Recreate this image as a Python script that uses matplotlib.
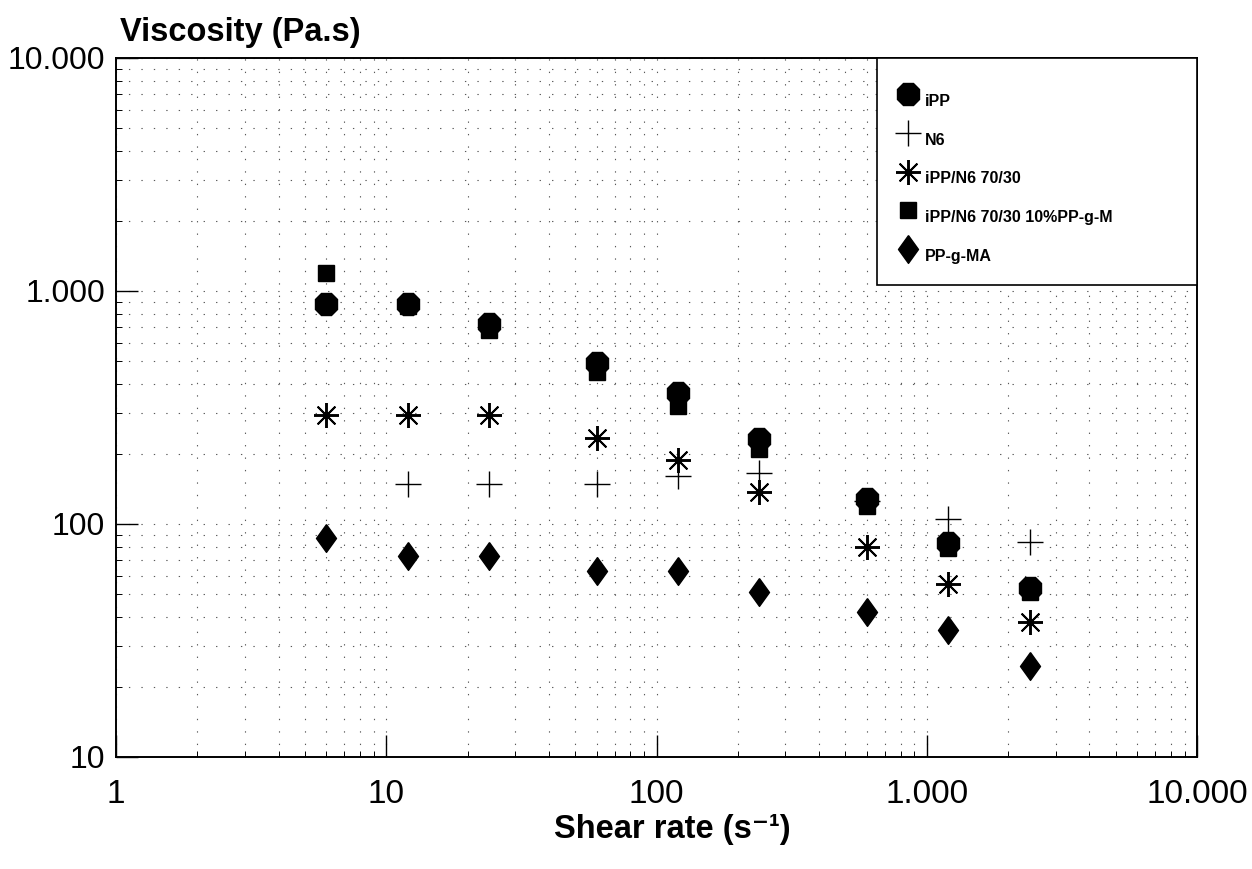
import numpy as np
import matplotlib
matplotlib.use("Agg")
import matplotlib.pyplot as plt
from matplotlib.ticker import FixedLocator, FuncFormatter, NullFormatter, LogLocator

plt.rcParams['font.family'] = ['Liberation Sans', 'DejaVu Sans']

# shear rate (1/s)
shear = [6, 12, 24, 60, 120, 240, 600, 1200, 2400]

# viscosity (Pa.s)
ipp = [880, 880, 720, 490, 365, 232, 128, 83, 53]
n6_shear = [12, 24, 60, 120, 240, 600, 1200, 2400]
n6 = [148, 148, 148, 160, 165, 125, 105, 84]
blend = [295, 295, 295, 234, 188, 137, 80, 55, 38]
blend_comp = [1200, 860, 680, 450, 320, 210, 119, 79, 51]
ppgma = [87, 73, 73, 63, 63, 51, 42, 35, 24.5]

labels = ['iPP', 'N6', 'iPP/N6 70/30', 'iPP/N6 70/30 10%PP-g-M', 'PP-g-MA']

# diamond a bit narrower than it is tall
diamond = [(0, 1), (0.72, 0), (0, -1), (-0.72, 0), (0, 1)]

fig = plt.figure(figsize=(12.52, 8.69), dpi=100)
ax = fig.add_axes([0.0927, 0.1289, 0.8634, 0.8044])

h_sq, = ax.plot(shear, blend_comp, ls='none', marker='s', ms=11, color='black', zorder=3)
h_ipp, = ax.plot(shear, ipp, ls='none', marker='8', ms=17, color='black', zorder=4)
h_n6, = ax.plot(n6_shear, n6, ls='none', marker='+', ms=19, mew=1.0, color='black', zorder=2)
h_bl, = ax.plot(shear, blend, ls='none', marker=(8, 2, 0), ms=18, mew=1.4, color='black', zorder=3)
h_ma, = ax.plot(shear, ppgma, ls='none', marker=diamond, ms=20, color='black', zorder=3)

ax.set_xscale('log')
ax.set_yscale('log')
ax.set_xlim(1, 10000)
ax.set_ylim(10, 10000)

def thousands(v, pos):
    return f'{int(round(v)):,}'.replace(',', '.')

ax.xaxis.set_major_locator(FixedLocator([1, 10, 100, 1000, 10000]))
ax.yaxis.set_major_locator(FixedLocator([10, 100, 1000, 10000]))
ax.xaxis.set_minor_locator(LogLocator(base=10, subs=np.arange(2, 10)))
ax.yaxis.set_minor_locator(LogLocator(base=10, subs=np.arange(2, 10)))
ax.xaxis.set_major_formatter(FuncFormatter(thousands))
ax.yaxis.set_major_formatter(FuncFormatter(thousands))
ax.xaxis.set_minor_formatter(NullFormatter())
ax.yaxis.set_minor_formatter(NullFormatter())

ax.tick_params(axis='both', which='major', direction='in', length=16, width=1.0)
ax.tick_params(axis='both', which='minor', direction='in', length=4, width=0.7)
ax.tick_params(axis='x', which='major', labelsize=24, pad=16)
ax.tick_params(axis='y', which='major', labelsize=23, pad=8)

ax.grid(True, which='both', color='0.35', lw=0.8, ls=(0, (1.2, 10)))
ax.set_axisbelow(True)

for s in ax.spines.values():
    s.set_linewidth(1.4)

leg = ax.legend([h_ipp, h_n6, h_bl, h_sq, h_ma], ['\n' + l for l in labels],
                loc='upper left', bbox_to_anchor=(0.704, 0.0, 0.296, 1.0),
                mode='expand', borderaxespad=0, frameon=True, fancybox=False,
                edgecolor='black', framealpha=1, prop={'size': 11.5, 'weight': 'bold'},
                handlelength=1.3, handletextpad=0.4, labelspacing=0.55,
                borderpad=1.3, numpoints=1)
leg.get_frame().set_linewidth(1.2)
for t in leg.get_texts():
    t.set_linespacing(1.0)

fig.text(0.096, 0.963, 'Viscosity (Pa.s)', fontsize=23.5, fontweight='bold',
         ha='left', va='center')
fig.text(0.537, 0.046, 'Shear rate (s\u207b\u00b9)', fontsize=23.5, fontweight='bold',
         ha='center', va='center')

fig.savefig('out.png', dpi=100)
